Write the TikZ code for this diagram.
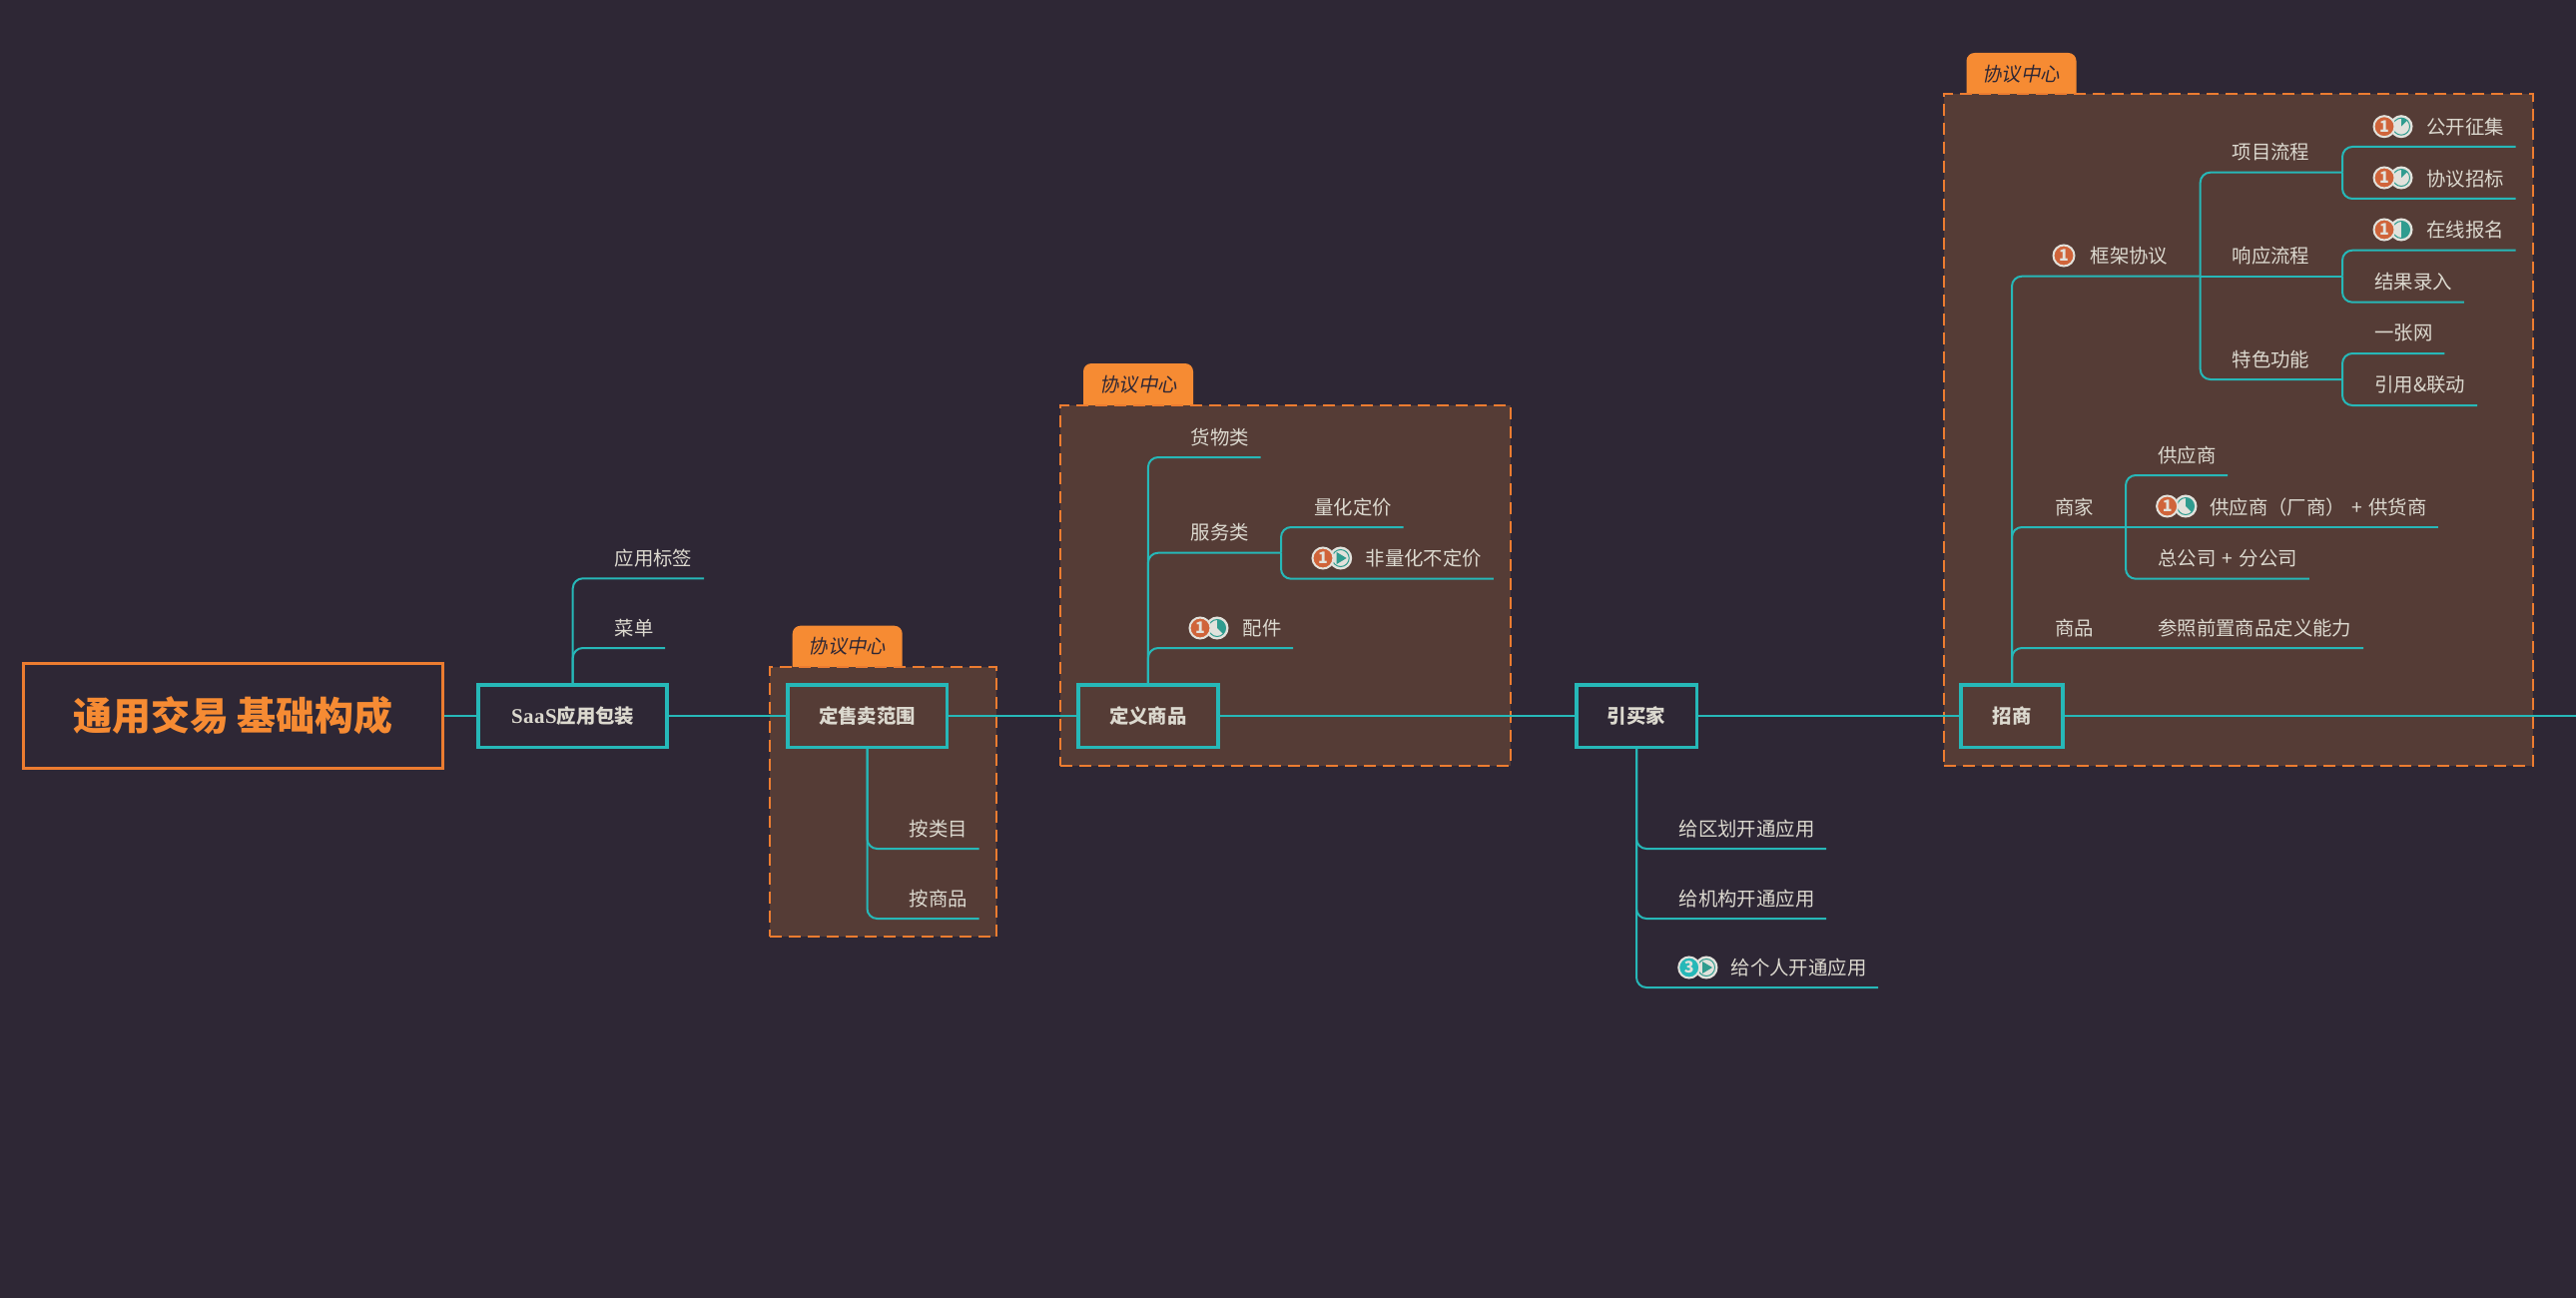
\documentclass[tikz,border=0pt]{standalone}
\usepackage{fontspec}
\newfontfamily\cjkfont{Noto Sans CJK SC}
\newfontfamily\parenfont{Noto Sans CJK TC}
\newfontfamily\tabfont[FakeSlant=0.2]{Noto Sans CJK SC}
\newfontfamily\saasfont[Scale=1.08,LetterSpace=2]{Liberation Serif}
\definecolor{mapbg}{RGB}{46,39,53}
\definecolor{areafill}{RGB}{85,60,54}
\definecolor{maporange}{RGB}{246,139,51}
\definecolor{rootline}{RGB}{236,124,48}
\definecolor{mapteal}{RGB}{38,184,184}
\definecolor{maptext}{RGB}{220,217,207}
\definecolor{iconlight}{RGB}{226,226,220}
\definecolor{iconred}{RGB}{208,100,58}
\definecolor{icongreen}{RGB}{47,156,143}
\tikzset{
  rootbox/.style={draw=rootline,line width=3pt,minimum width=420,minimum height=105,text=maporange,font=\cjkfont\bfseries\fontsize{39}{46}\selectfont},
  mainbox/.style={draw=mapteal,line width=3.5pt,minimum height=62.5,text=maptext,font=\cjkfont\bfseries\fontsize{19.4}{24}\selectfont},
  topic/.style={anchor=south west,minimum height=40.6,inner xsep=11.7,inner ysep=0,outer sep=0,text=maptext,font=\cjkfont\fontsize{19.4}{24}\selectfont},
  areabox/.style={draw=rootline,fill=areafill,line width=2pt,dash pattern=on 12pt off 7pt},
  tabbox/.style={fill=maporange,rounded corners=8,minimum width=110,minimum height=52},
  tabtext/.style={text=mapbg,font=\tabfont\fontsize{19.4}{24}\selectfont},
  mainline/.style={draw=mapteal,line width=2pt},
  branch/.style={draw=mapteal,line width=2pt,rounded corners=10},
  prio/.style={circle,draw=iconlight,line width=2pt,fill=iconred,minimum size=21,inner sep=0,text=iconlight,font=\cjkfont\bfseries\fontsize{16}{16}\selectfont},
  progbox/.style={circle,draw=iconlight,line width=2pt,fill=iconlight,minimum size=21,inner sep=0},
}
\newcommand{\progicon}[3]{
  \node[progbox] (#1) at (#2) {};
  \draw[icongreen,line width=1pt] (#1.center) circle (8.5);
  \fill[icongreen] (#1.center) -- ++(-90:8.5) arc (-90:#3:8.5) -- cycle;
}
\newcommand{\playicon}[2]{
  \node[progbox] (#1) at (#2) {};
  \draw[icongreen,line width=1pt] (#1.center) circle (8.5);
  \fill[icongreen] ($(#1.center)+(-4,-6)$) -- ($(#1.center)+(-4,6)$) -- ($(#1.center)+(6,0)$) -- cycle;
}
\usetikzlibrary{calc}
\begin{document}
\begin{tikzpicture}[x=1pt,y=-1pt]
  \useasboundingbox[fill=mapbg] (0,0) rectangle (2580,1300);

  \node[tabbox] (tabB) at (848.7,652.7) {};
  \node[tabbox] (tabC) at (1140,390) {};
  \node[tabbox] (tabD) at (2024.5,79) {};
  \node[areabox,minimum width=227.6,minimum height=270] (areaB) at (884.3,803.2) {};
  \node[areabox,minimum width=451,minimum height=361] (areaC) at (1287.8,586.3) {};
  \node[areabox,minimum width=590,minimum height=672] (areaD) at (2241.6,430.5) {};
  \node[tabtext] (tabtextB) at (848.5,647) {协议中心};
  \node[tabtext] (tabtextC) at (1140.2,385) {协议中心};
  \node[tabtext] (tabtextD) at (2024.2,74) {协议中心};

  \node[rootbox] (root) at (233.5,717) {通用交易 基础构成};
  \node[mainbox,minimum width=189] (saas) at (573.7,717) {{\saasfont\bfseries SaaS}应用包装};
  \node[mainbox,minimum width=159.5] (sale) at (868.5,717) {定售卖范围};
  \node[mainbox,minimum width=140] (define) at (1149.9,717) {定义商品};
  \node[mainbox,minimum width=120.5] (buyer) at (1639,717) {引买家};
  \node[mainbox,minimum width=102] (invite) at (2015,717) {招商};
  \coordinate (rightend) at (2580,717);

  \draw[mainline] (root) -- (saas);
  \draw[mainline] (saas) -- (sale);
  \draw[mainline] (sale) -- (define);
  \draw[mainline] (define) -- (buyer);
  \draw[mainline] (buyer) -- (invite);
  \draw[mainline] (invite) -- (rightend);

  \node[topic] (tag) at (604,579.3) {应用标签};
  \node[topic] (menu) at (604,649) {菜单};
  \node[topic] (bycat) at (899,850) {按类目};
  \node[topic] (byprod) at (899,920) {按商品};
  \node[topic] (goods) at (1181,458) {货物类};
  \node[topic] (service) at (1181,553.7) {服务类};
  \node[topic] (quant) at (1304.7,528) {量化定价};
  \node[topic] (nonquant) at (1356,579.7) {非量化不定价};
  \node[topic] (parts) at (1233,649) {配件};
  \node[topic] (region) at (1670,850) {给区划开通应用};
  \node[topic] (org) at (1670,920) {给机构开通应用};
  \node[topic] (person) at (1722,989) {给个人开通应用};
  \node[topic] (frame) at (2082,276.7) {框架协议};
  \node[topic] (proj) at (2224,172.7) {项目流程};
  \node[topic] (resp) at (2224,276.7) {响应流程};
  \node[topic] (feat) at (2224,380) {特色功能};
  \node[topic] (open) at (2418.6,147) {公开征集};
  \node[topic] (tender) at (2418.6,199) {协议招标};
  \node[topic] (signup) at (2418.6,250.7) {在线报名};
  \node[topic] (result) at (2366.8,302.7) {结果录入};
  \node[topic] (net) at (2366.8,354) {一张网};
  \node[topic] (cite) at (2366.8,406) {引用\&联动};
  \node[topic] (merchant) at (2046.4,528) {商家};
  \node[topic] (supplier) at (2149.6,476) {供应商};
  \node[topic] (maker) at (2201.5,528) {供应商{\parenfont（}厂商{\parenfont）}\hspace{2pt} + \hspace{2pt}供货商};
  \node[topic] (branchco) at (2149.6,579.7) {总公司\hspace{2pt} + \hspace{2pt}分公司};
  \node[topic] (goodsB) at (2046.4,649) {商品};
  \node[topic] (refer) at (2149.6,649) {参照前置商品定义能力};

  \coordinate (forkservice) at (1283,553.7);
  \coordinate (forkframe) at (2203.7,276.7);
  \coordinate (forkproj) at (2346,172.7);
  \coordinate (forkresp) at (2346,276.7);
  \coordinate (forkfeat) at (2346,380);
  \coordinate (forkmerchant) at (2129,528);

  \draw[branch] (saas.north) |- (tag.south west) -- (tag.south east);
  \draw[branch] (saas.north) |- (menu.south west) -- (menu.south east);
  \draw[branch] (sale.south) |- (bycat.south west) -- (bycat.south east);
  \draw[branch] (sale.south) |- (byprod.south west) -- (byprod.south east);
  \draw[branch] (define.north) |- (goods.south west) -- (goods.south east);
  \draw[branch] (define.north) |- (service.south west) -- (service.south east) -- (forkservice);
  \draw[branch] (define.north) |- (parts.south west) -- (parts.south east);
  \draw[branch] (forkservice) |- (quant.south west) -- (quant.south east);
  \draw[branch] (forkservice) |- (nonquant.south west) -- (nonquant.south east);
  \draw[branch] (buyer.south) |- (region.south west) -- (region.south east);
  \draw[branch] (buyer.south) |- (org.south west) -- (org.south east);
  \draw[branch] (buyer.south) |- (person.south west) -- (person.south east);
  \draw[branch] (invite.north) |- (frame.south west) -- (frame.south east) -- (forkframe);
  \draw[branch] (invite.north) |- (merchant.south west) -- (merchant.south east) -- (forkmerchant);
  \draw[branch] (invite.north) |- (goodsB.south west) -- (goodsB.south east) -- (refer.south west) -- (refer.south east);
  \draw[branch] (forkframe) |- (proj.south west) -- (proj.south east) -- (forkproj);
  \draw[branch] (forkframe) -- (resp.south west) -- (resp.south east) -- (forkresp);
  \draw[branch] (forkframe) |- (feat.south west) -- (feat.south east) -- (forkfeat);
  \draw[branch] (forkproj) |- (open.south west) -- (open.south east);
  \draw[branch] (forkproj) |- (tender.south west) -- (tender.south east);
  \draw[branch] (forkresp) |- (signup.south west) -- (signup.south east);
  \draw[branch] (forkresp) |- (result.south west) -- (result.south east);
  \draw[branch] (forkfeat) |- (net.south west) -- (net.south east);
  \draw[branch] (forkfeat) |- (cite.south west) -- (cite.south east);
  \draw[branch] (forkmerchant) |- (supplier.south west) -- (supplier.south east);
  \draw[branch] (forkmerchant) -- (maker.south west) -- (maker.south east);
  \draw[branch] (forkmerchant) |- (branchco.south west) -- (branchco.south east);

  \playicon{playA}{1342.7,559}
  \node[prio] (prioA) at (1325,559) {1};
  \progicon{progA}{1219,629}{45}
  \node[prio] (prioB) at (1202,629) {1};
  \playicon{playB}{1709,969}
  \node[prio,fill=mapteal] (prioC) at (1691.7,969) {3};
  \node[prio] (prioD) at (2067,256) {1};
  \progicon{progB}{2405,126.7}{-45}
  \node[prio] (prioE) at (2388,126.7) {1};
  \progicon{progC}{2405,178}{-45}
  \node[prio] (prioF) at (2388,178) {1};
  \progicon{progD}{2405,230}{90}
  \node[prio] (prioG) at (2388,230) {1};
  \progicon{progE}{2189,507}{45}
  \node[prio] (prioH) at (2170.6,507) {1};
\end{tikzpicture}
\end{document}
